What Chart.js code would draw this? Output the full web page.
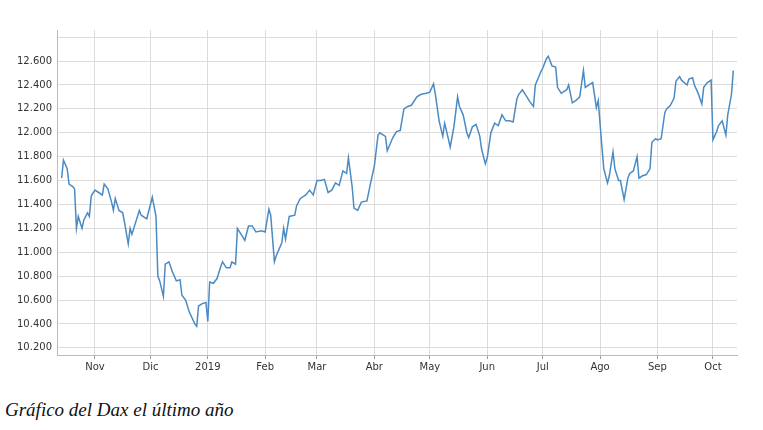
<!DOCTYPE html>
<html><head><meta charset="utf-8">
<script src="https://cdn.jsdelivr.net/npm/chart.js@4"></script>
<style>body{margin:0;background:#fff;width:763px;height:430px;position:relative;overflow:hidden}
#wrap{position:absolute;left:0;top:0;width:763px;height:380px}
#cap{position:absolute;left:5px;top:399px;font:italic 19px "Liberation Serif",serif;color:#111}</style>
</head><body>
<div id="wrap"><canvas id="c"></canvas></div>
<div id="cap">Gráfico del Dax el último año</div>
<script>
// days since 1 Oct 2018
const days=[13,14,16,17,19,20,21,22,24,25,27,28,29,31,33,35,36,38,40,41,42,44,46,47,49,50,51,53,55,56,59,61,62,64,65,66,68,69,71,73,75,77,78,80,82,85,86,87,89,91,92,93,95,97,99,100,102,104,105,107,108,110,112,114,116,118,121,123,125,126,128,129,132,133,134,136,139,140,142,145,147,149,151,153,155,157,159,161,163,165,167,168,170,171,173,175,178,180,182,184,185,188,189,192,194,196,198,200,202,205,207,210,212,214,215,217,219,220,222,223,225,227,228,230,232,233,235,237,239,240,242,243,245,247,249,251,253,255,257,259,260,262,264,266,268,269,272,273,275,276,278,280,281,283,286,287,289,291,293,295,296,298,300,302,303,305,306,308,309,311,312,314,315,317,319,320,322,324,325,327,329,331,332,334,335,337,339,340,342,344,345,347,348,351,352,354,355,357,359,360,362,364,365,367,368,370,372,373,375,376];
const dax=[11620,11770,11700,11570,11550,11530,11200,11300,11200,11270,11330,11300,11470,11520,11500,11480,11570,11530,11420,11350,11450,11350,11330,11250,11070,11200,11150,11250,11350,11310,11280,11400,11460,11300,10800,10760,10630,10900,10920,10830,10760,10770,10640,10600,10500,10400,10380,10550,10570,10580,10420,10750,10740,10780,10880,10920,10870,10870,10920,10900,11200,11150,11100,11220,11220,11170,11180,11170,11360,11310,10920,10970,11080,11200,11110,11300,11310,11390,11450,11480,11520,11480,11600,11600,11610,11500,11520,11580,11560,11680,11660,11790,11550,11370,11350,11420,11430,11580,11720,11980,12000,11970,11850,11960,12010,12020,12200,12220,12230,12300,12320,12330,12340,12410,12320,12100,11970,12080,11950,11880,12050,12300,12220,12150,12000,11960,12050,12070,11970,11860,11740,11790,12000,12080,12060,12150,12100,12100,12090,12280,12320,12360,12310,12260,12220,12400,12510,12540,12620,12640,12560,12550,12380,12330,12360,12400,12250,12270,12300,12520,12380,12400,12420,12210,12270,11880,11700,11580,11640,11840,11700,11600,11600,11440,11620,11660,11680,11800,11620,11640,11650,11700,11920,11950,11940,11950,12170,12200,12230,12290,12430,12470,12440,12400,12450,12460,12400,12330,12240,12380,12420,12440,11940,12010,12060,12100,11980,12150,12320,12520];
const monthDays=[31,61,92,123,151,182,212,243,273,304,335,365];
const monthLabels=['Nov','Dic','2019','Feb','Mar','Abr','May','Jun','Jul','Ago','Sep','Oct'];
const yTicks=[10200,10400,10600,10800,11000,11200,11400,11600,11800,12000,12200,12400,12600,12800];
const fmt=v=>(v/1000).toFixed(3);
new Chart(document.getElementById('c'),{type:'line',
data:{datasets:[{data:days.map((d,i)=>({x:d,y:dax[i]})),borderColor:'#4a8bc4',borderWidth:1.5,pointRadius:0,tension:0}]},
options:{responsive:true,maintainAspectRatio:false,animation:false,
layout:{padding:{top:30,right:26,left:0,bottom:0}},
plugins:{legend:{display:false},tooltip:{enabled:false}},
scales:{
x:{type:'linear',min:10.5,max:378,
afterBuildTicks:a=>{a.ticks=monthDays.map(v=>({value:v}))},
afterFit:a=>{a.height=25},
ticks:{autoSkip:false,maxRotation:0,color:'#333',font:{family:'DejaVu Sans',size:10},padding:2,callback:v=>monthLabels[monthDays.indexOf(v)]||''},
grid:{color:'#dcdcdc',tickLength:4,tickColor:'#999'},border:{color:'#bbb'}},
y:{min:10140,max:12860,
afterBuildTicks:a=>{a.ticks=yTicks.map(v=>({value:v}))},
afterFit:a=>{a.width=57},
ticks:{color:'#333',font:{family:'DejaVu Sans',size:10},padding:5,callback:v=>v===12800?'':fmt(v)},
grid:{color:'#dcdcdc',tickLength:0},border:{color:'#bbb'}}}}});
</script></body></html>
